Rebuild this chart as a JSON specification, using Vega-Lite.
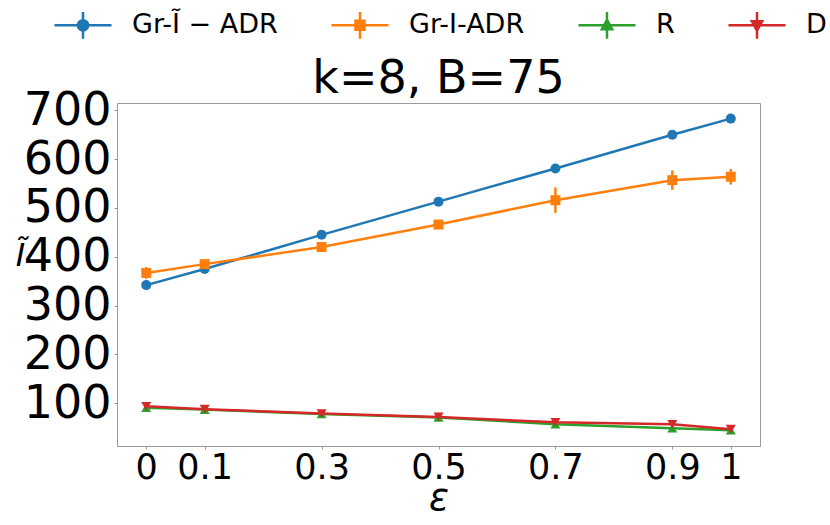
{
  "$schema": "https://vega.github.io/schema/vega-lite/v6.json",
  "width": 643,
  "height": 343,
  "autosize": {"type": "none"},
  "padding": {"left": 117, "top": 103, "right": 70, "bottom": 79},
  "config": {
    "font": "DejaVu Sans",
    "view": {"stroke": "#999999", "strokeWidth": 1},
    "axis": {
      "grid": false,
      "domain": false,
      "tickColor": "#999999",
      "tickSize": 3,
      "labelColor": "black",
      "titleColor": "black",
      "labelFont": "DejaVu Sans",
      "titleFont": "DejaVu Sans",
      "titleFontWeight": "normal",
      "labelFlush": false,
      "labelOverlap": false
    },
    "legend": {
      "title": null,
      "orient": "none",
      "legendX": -64,
      "legendY": -108,
      "direction": "horizontal",
      "columns": 4,
      "columnPadding": 48,
      "labelOffset": 19,
      "labelFont": "DejaVu Sans",
      "labelFontSize": 27,
      "labelColor": "black",
      "labelLimit": 0,
      "symbolSize": 3249,
      "symbolStrokeWidth": 2.5,
      "padding": 0
    }
  },
  "title": {
    "text": "k=8, B=75",
    "font": "DejaVu Sans",
    "fontSize": 46,
    "fontWeight": "normal",
    "color": "black",
    "baseline": "alphabetic",
    "frame": "group",
    "offset": -144
  },
  "data": {
    "values": [
      {"series": "Gr-Ĩ − ADR", "eps": 0, "value": 342, "err": 3},
      {"series": "Gr-Ĩ − ADR", "eps": 0.1, "value": 375, "err": 3},
      {"series": "Gr-Ĩ − ADR", "eps": 0.3, "value": 445, "err": 3},
      {"series": "Gr-Ĩ − ADR", "eps": 0.5, "value": 513, "err": 3},
      {"series": "Gr-Ĩ − ADR", "eps": 0.7, "value": 581, "err": 3},
      {"series": "Gr-Ĩ − ADR", "eps": 0.9, "value": 650, "err": 3},
      {"series": "Gr-Ĩ − ADR", "eps": 1, "value": 683, "err": 3},
      {"series": "Gr-I-ADR", "eps": 0, "value": 367, "err": 12},
      {"series": "Gr-I-ADR", "eps": 0.1, "value": 385, "err": 5},
      {"series": "Gr-I-ADR", "eps": 0.3, "value": 420, "err": 5},
      {"series": "Gr-I-ADR", "eps": 0.5, "value": 466, "err": 8},
      {"series": "Gr-I-ADR", "eps": 0.7, "value": 516, "err": 26},
      {"series": "Gr-I-ADR", "eps": 0.9, "value": 557, "err": 20},
      {"series": "Gr-I-ADR", "eps": 1, "value": 564, "err": 16},
      {"series": "R", "eps": 0, "value": 91, "err": 2},
      {"series": "R", "eps": 0.1, "value": 87, "err": 2},
      {"series": "R", "eps": 0.3, "value": 78, "err": 2},
      {"series": "R", "eps": 0.5, "value": 71, "err": 2},
      {"series": "R", "eps": 0.7, "value": 57, "err": 2},
      {"series": "R", "eps": 0.9, "value": 49, "err": 2},
      {"series": "R", "eps": 1, "value": 45, "err": 2},
      {"series": "D", "eps": 0, "value": 94, "err": 2},
      {"series": "D", "eps": 0.1, "value": 88, "err": 2},
      {"series": "D", "eps": 0.3, "value": 79, "err": 2},
      {"series": "D", "eps": 0.5, "value": 72, "err": 2},
      {"series": "D", "eps": 0.7, "value": 61, "err": 2},
      {"series": "D", "eps": 0.9, "value": 57, "err": 2},
      {"series": "D", "eps": 1, "value": 47, "err": 2}
    ]
  },
  "encoding": {
    "x": {
      "field": "eps",
      "type": "quantitative",
      "scale": {"domain": [-0.05, 1.05], "nice": false, "zero": false},
      "axis": {
        "values": [0, 0.1, 0.3, 0.5, 0.7, 0.9, 1],
        "format": "~g",
        "labelFontSize": 35,
        "labelPadding": 1,
        "title": "ε",
        "titleFontSize": 37,
        "titleFontStyle": "italic",
        "titleBaseline": "alphabetic",
        "titleY": 63
      }
    },
    "y": {
      "field": "value",
      "type": "quantitative",
      "scale": {"domain": [12.5, 715], "nice": false, "zero": false},
      "axis": {
        "values": [100, 200, 300, 400, 500, 600, 700],
        "labelFontSize": 46,
        "labelPadding": 3,
        "title": "Ĩ",
        "titleAngle": 0,
        "titleAlign": "center",
        "titleBaseline": "alphabetic",
        "titleX": -97,
        "titleY": 162,
        "titleFontSize": 32,
        "titleFontStyle": "italic"
      }
    },
    "color": {
      "field": "series",
      "type": "nominal",
      "scale": {
        "domain": ["Gr-Ĩ − ADR", "Gr-I-ADR", "R", "D"],
        "range": ["#1f77b4", "#ff7f0e", "#2ca02c", "#d62728"]
      },
      "legend": null
    }
  },
  "layer": [
    {
      "mark": {"type": "line", "strokeWidth": 2.5}
    },
    {
      "mark": {"type": "errorbar", "thickness": 2.5},
      "encoding": {
        "yError": {"field": "err"}
      }
    },
    {
      "mark": {"type": "point", "filled": true, "size": 100, "opacity": 1},
      "encoding": {
        "shape": {
          "field": "series",
          "type": "nominal",
          "scale": {
            "domain": ["Gr-Ĩ − ADR", "Gr-I-ADR", "R", "D"],
            "range": ["circle", "square", "triangle-up", "triangle-down"]
          },
          "legend": null
        }
      }
    },
    {
      "transform": [{"filter": "false"}],
      "mark": {"type": "point", "filled": true, "opacity": 1, "strokeWidth": 2.5},
      "encoding": {
        "color": {
          "field": "series",
          "type": "nominal",
          "scale": {
            "domain": ["Gr-Ĩ − ADR", "Gr-I-ADR", "R", "D"],
            "range": ["#1f77b4", "#ff7f0e", "#2ca02c", "#d62728"]
          },
          "legend": {
            "encoding": {
              "symbols": {
                "fill": {"value": {"expr": "scale('color', datum.value)"}},
                "fillOpacity": {"value": 1},
                "stroke": {"value": {"expr": "scale('color', datum.value)"}},
                "strokeWidth": {"value": 2.5}
              }
            }
          }
        },
        "shape": {
          "field": "series",
          "type": "nominal",
          "scale": {
            "domain": ["Gr-Ĩ − ADR", "Gr-I-ADR", "R", "D"],
            "range": [
              "M-1,0H1M0,-0.47V0.47M0.18,0A0.18,0.18,0,1,1,-0.18,0A0.18,0.18,0,1,1,0.18,0Z",
              "M-1,0H1M0,-0.47V0.47M-0.16,-0.16H0.16V0.16H-0.16Z",
              "M-1,0H1M0,-0.47V0.47M0,-0.19L0.18,0.14H-0.18Z",
              "M-1,0H1M0,-0.47V0.47M0,0.19L0.18,-0.14H-0.18Z"
            ]
          },
          "legend": {
            "encoding": {
              "symbols": {
                "fill": {"value": {"expr": "scale('color', datum.value)"}},
                "fillOpacity": {"value": 1},
                "stroke": {"value": {"expr": "scale('color', datum.value)"}},
                "strokeWidth": {"value": 2.5}
              }
            }
          }
        }
      }
    }
  ],
  "resolve": {"scale": {"shape": "independent"}}
}
